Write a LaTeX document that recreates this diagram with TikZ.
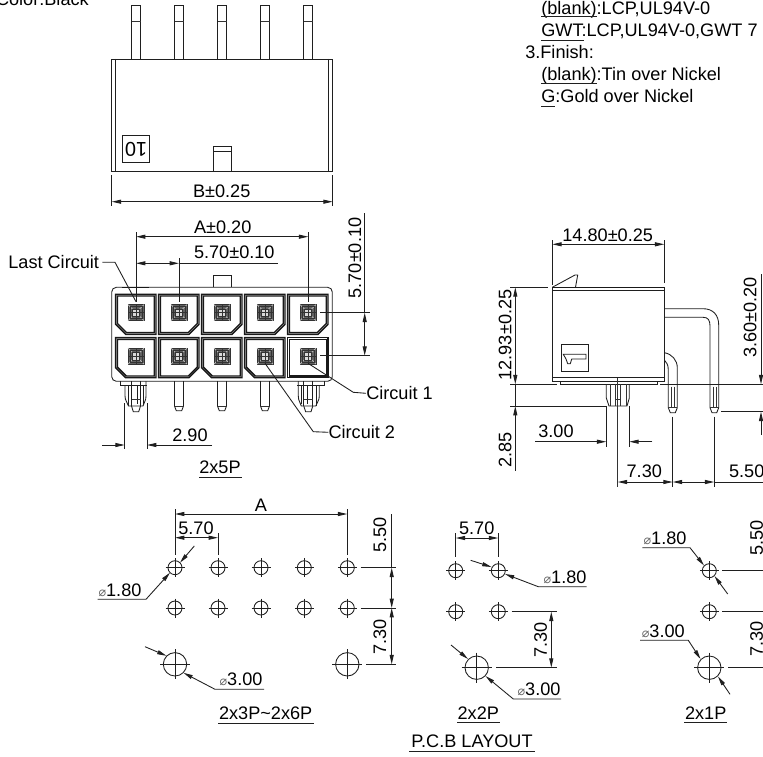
\documentclass[tikz,border=0pt]{standalone}
\usepackage{fontspec}
\setmainfont{Liberation Sans}
\newfontfamily\djfont{DejaVu Sans}
\usetikzlibrary{arrows.meta}
\newcommand{\dia}{{\djfont\fontsize{9.5pt}{10pt}\selectfont\textcolor{black!60}{⌀}}}
\tikzset{
  ln/.style={line width=0.65pt,draw=black!88},
  thin ln/.style={line width=0.5pt,draw=black!80},
  thick ln/.style={line width=1.1pt,draw=black!90},
  arr/.style={ln,-{Stealth[inset=0pt,length=7pt,width=3pt]}},
  arrb/.style={ln,{Stealth[inset=0pt,length=7pt,width=3pt]}-{Stealth[inset=0pt,length=7pt,width=3pt]}},
  txt/.style={inner sep=0pt,font=\fontsize{13.6pt}{16pt}\selectfont},
  vtxt/.style={txt,rotate=90},
}
% cavity polygon: x0 y0 x1 y1 type chamfer
\newcommand{\cavpoly}[6]{%
  \ifcase#5\relax
    \draw[thick ln,line join=miter,fill=white] ({#1},{#2}) -- ({#3},{#2}) -- ({#3},{#4}) -- ({#1},{#4}) -- cycle;
  \or
    \draw[thick ln,line join=miter,fill=white] ({#1},{#2}) -- ({#3},{#2}) -- ({#3},{#4}) -- ({#1+#6},{#4}) -- ({#1},{#4-#6}) -- cycle;
  \or
    \draw[thick ln,line join=miter,fill=white] ({#1},{#2}) -- ({#3},{#2}) -- ({#3},{#4-#6}) -- ({#3-#6},{#4}) -- ({#1},{#4}) -- cycle;
  \fi}
% terminal cavity: centre x, top y, type
\newcommand{\cav}[3]{%
  \cavpoly{#1-20.3}{#2}{#1+20}{#2+40}{#3}{10}
  \cavpoly{#1-18.6}{#2+1.7}{#1+18.3}{#2+38.3}{#3}{9}
  \begin{scope}[shift={(#1,{#2+18.4})}]
    \fill[black!62] (-8,-8) rectangle (8,8);
    \draw[thin ln] (-8,-8) rectangle (8,8);
    \draw[line width=0.5pt,draw=black!25] (-8,-8) -- (8,8) (-8,8) -- (8,-8);
    \fill[black!15] (-3.8,-3.8) rectangle (3.8,3.8);
    \draw[thin ln] (-3.8,-3.8) rectangle (3.8,3.8);
    \draw[thin ln] (-8,0) -- (8,0) (0,-8) -- (0,8) (-6,-6) rectangle (6,6);
  \end{scope}}
% front pin
\newcommand{\fpin}[1]{%
  \draw[ln] ({#1-4.5},381) -- ({#1-4.5},406) -- ({#1-2.7},410.7) -- ({#1+2.7},410.7) -- ({#1+4.5},406) -- ({#1+4.5},381);
  \draw[thin ln] ({#1-4.5},406) -- ({#1+4.5},406);}
% front mounting peg
\newcommand{\fpeg}[2]{%
  \begin{scope}[shift={(#1,0)},xscale=#2]
    \draw[ln] (-16,381) -- (-16,385) -- (11,385);
    \draw[ln] (-11,385) -- (-11,396) .. controls (-11,401) and (-8.5,402) .. (-7.5,406) -- (7,406) .. controls (8,402) and (10,401) .. (10,396) -- (10,381);
    \draw[ln] (-8,385) -- (-8,406) (-4.5,381) -- (-4.5,406) (1,385) -- (1,404) (4.5,381) -- (4.5,406) (7,385) -- (7,404);
    \draw[ln] (-4.5,406) -- (-2.7,411.7) -- (2.7,411.7) -- (4.5,406);
    \draw[thin ln] (-4.5,399) -- (4.5,399);
  \end{scope}}
\newcommand{\hole}[4]{%
  \draw[ln] (#1,#2) circle[radius=#3];
  \draw[ln] ({#1-#4},#2) -- ({#1+#4},#2) (#1,{#2-#4}) -- (#1,{#2+#4});}
\begin{document}
\begin{tikzpicture}[x=0.75pt,y=-0.75pt]
\useasboundingbox (0,0) rectangle (763,756);
\fill[white] (0,0) rectangle (763,756);
\clip (0,0) rectangle (763,756);

% ---------- top-of-sheet notes
\node[txt,anchor=base east] (color) at (89,5.5) {Color:Black};
\node[txt,anchor=base west] (n1) at (541,15) {(blank):LCP,UL94V-0};
\node[txt,anchor=base west] (n2) at (541,36.5) {GWT:LCP,UL94V-0,GWT 7};
\node[txt,anchor=base west] (n3) at (525,59) {3.Finish:};
\node[txt,anchor=base west] (n4) at (541,81) {(blank):Tin over Nickel};
\node[txt,anchor=base west] (n5) at (541,103) {G:Gold over Nickel};
\draw[ln] (541,16.7) -- (597,16.7) (541,40) -- (584,40) (541,83) -- (597,83) (541,106.3) -- (555,106.3);

% ---------- top view
\foreach \c in {136,179,222,265,308}{
  \draw[ln] ({\c-4.5},59) -- ({\c-4.5},5) -- ({\c+4.5},5) -- ({\c+4.5},59);
  \draw[thin ln] ({\c-4.5},21) -- ({\c+4.5},21);
}
\draw[ln] (111.7,59) rectangle (332.7,171.3);
\draw[ln] (115.7,59) -- (115.7,171.3) (328.7,59) -- (328.7,171.3);
\draw[ln] (122.3,135.3) rectangle (149.7,162.3);
\node[txt,rotate=180,font=\fontsize{15pt}{16pt}\selectfont] (ten) at (136,149) {10};
\draw[ln] (213.3,171.3) -- (213.3,146.3) -- (231.3,146.3) -- (231.3,171.3);
\draw[ln] (213.3,151.7) -- (231.3,151.7);
\draw[ln] (111.7,175) -- (111.7,206) (332.7,175) -- (332.7,206);
\draw[arrb] (111.7,201.7) -- (332.7,201.7);
\node[txt] (b) at (221.7,191.7) {B±0.25};

% ---------- front view
\draw[ln] (213.3,287.3) -- (213.3,275) -- (231.3,275) -- (231.3,287.3);
\draw[ln,rounded corners=3.5pt] (111.7,287.3) rectangle (332.3,381.3);
\foreach \c/\t in {136/1,179/2,222/2,265/2,308/2}{ \cav{\c}{294.3}{\t} }
\foreach \c/\t in {136/1,179/2,222/1,265/1,308/0}{ \cav{\c}{337.7}{\t} }
\draw[thick ln] (121.7,287.3) -- (149.3,287.3);
\foreach \c in {179,222,265}{ \fpin{\c} }
\fpeg{136}{1}
\fpeg{308.3}{-1}
% front dims
\draw[ln] (136,232.3) -- (136,301.7) (308.3,232.3) -- (308.3,301.7);
\draw[arrb] (136,236.7) -- (308.3,236.7);
\node[txt] (a20) at (222.7,227.3) {A±0.20};
\draw[ln] (179,258.3) -- (179,301.7);
\draw[arrb] (136,263.3) -- (179,263.3);
\draw[ln] (179,263.3) -- (278,263.3);
\node[txt] (p10) at (234.3,252.7) {5.70±0.10};
\draw[ln] (320,312.7) -- (370,312.7) (320,355.7) -- (370,355.7);
\draw[ln] (364.7,213.3) -- (364.7,312.7);
\draw[arrb] (364.7,312.7) -- (364.7,355.7);
\node[vtxt] (v10) at (355,258) {5.70±0.10};
\node[txt,anchor=east] (last) at (99.3,262.3) {Last Circuit};
\draw[ln] (last.east) ++(3,0) -- (115,262.3) -- (136,301.7);
\node[txt,anchor=west] (c1) at (366,393.3) {Circuit 1};
\draw[ln] (308,363.3) -- (353.3,392.3) -- (c1.west);
\node[txt,anchor=west] (c2) at (328.3,432.3) {Circuit 2};
\draw[ln] (265,363.3) -- (313.3,431.7) -- (c2.west);
\draw[ln] (124.7,403) -- (124.7,449.3) (147,403) -- (147,449.3);
\draw[arr] (102.3,445) -- (124.7,445);
\draw[arr] (212,445) -- (147,445);
\node[txt] (p29) at (190,435) {2.90};
\node[txt] (t25) at (220,467.7) {2x5P};
\draw[ln] (199,477.3) -- (241.7,477.3);

% ---------- side view
\draw[ln] (664.3,308.7) -- (703,308.7) .. controls (713,308.7) and (718.7,315) .. (718.7,325) -- (718.7,407.7) -- (716.7,412.7) -- (712,412.7) -- (710,407.7) -- (710,326) .. controls (710,320) and (708,317.3) .. (703,317.3) -- (664.3,317.3);
\draw[thin ln] (713.3,386.7) -- (713.3,407.7) (716,386.7) -- (716,407.7) (710,407.7) -- (718.7,407.7);
\draw[ln] (664.3,352.7) .. controls (672,354) and (677.3,360) .. (677.3,368) -- (677.3,407.7) -- (675.3,412.7) -- (670.3,412.7) -- (668.3,407.7) -- (668.3,370) .. controls (668.3,365) and (666.5,362) .. (664.3,360);
\draw[thin ln] (671.7,386.7) -- (671.7,407.7) (674.3,386.7) -- (674.3,407.7) (668.3,407.7) -- (677.3,407.7);
\draw[ln,fill=white] (552.3,287.3) rectangle (664.3,381);
\draw[thick ln] (552.3,287.3) -- (664.3,287.3);
\draw[ln] (552.3,290.7) -- (664.3,290.7) (552.3,377.3) -- (664.3,377.3);
\draw[ln] (552.3,287.3) -- (575,275) -- (577.7,275) -- (575.5,287.3);
\draw[thick ln] (575,287.3) -- (588.3,287.3);
\draw[ln] (561,344) rectangle (588.3,371);
\draw[ln] (563.3,354.3) -- (586,354.3) -- (586,359) -- (571.7,359) -- (570.3,363.7) -- (567.7,363.7) -- (566,359) -- cycle;
\draw[ln] (560,381) -- (560,384.3) -- (657.3,384.3) -- (657.3,381);
\draw[ln] (606.3,384.3) -- (606.3,398) -- (609,406) -- (627,406) -- (629.3,398) -- (629.3,384.3);
\draw[thin ln] (610,384.3) -- (610,406) (615.3,384.3) -- (615.3,406) (620,384.3) -- (620,406) (626,384.3) -- (626,406) (615.3,399) -- (620,399);
\draw[thin ln] (617.7,378) -- (617.7,486.7);
% side dims
\draw[ln] (552.3,240) -- (552.3,285) (664.3,240) -- (664.3,283.3);
\draw[arrb] (552.3,244.3) -- (664.3,244.3);
\node[txt] (w) at (607.7,235) {14.80±0.25};
\draw[ln] (510,287.3) -- (548,287.3) (510,384.3) -- (556.7,384.3) (660,384.3) -- (763,384.3);
\draw[arrb] (515.3,287.3) -- (515.3,384.3);
\node[vtxt] (h) at (505,335) {12.93±0.25};
\draw[ln] (510,406) -- (606.3,406);
\draw[ln] (515.3,384.3) -- (515.3,406);
\draw[arr] (515.3,470.7) -- (515.3,406);
\node[vtxt] (d285) at (505,450) {2.85};
\draw[ln] (721,411.7) -- (763,411.7);
\draw[arr] (761,274) -- (761,384.3);
\draw[arr] (761,435) -- (761,411.7);
\node[vtxt] (d36) at (750,317.7) {3.60±0.20};
\draw[ln] (606.3,406) -- (606.3,446.7) (629.3,406) -- (629.3,446.7);
\draw[arr] (535,441.7) -- (606.3,441.7);
\draw[arr] (652.3,441.7) -- (629.3,441.7);
\node[txt] (d3) at (556,431.7) {3.00};
\draw[ln] (672.7,416.7) -- (672.7,486.7) (714.3,416.7) -- (714.3,486.7);
\draw[arrb] (617.7,482) -- (672.7,482);
\draw[arrb] (672.7,482) -- (714.3,482);
\draw[ln] (714.3,482) -- (763,482);
\node[txt] (d73) at (644.3,471.7) {7.30};
\node[txt] (d55) at (746.7,471.7) {5.50};

% ---------- PCB layout 1
\foreach \c in {175,218,261,304.3,347.3}{
  \hole{\c}{567.7}{7}{9.5}
  \hole{\c}{608}{7}{9.5}
}
\hole{175}{664.3}{11.7}{15}
\hole{347.3}{664.3}{11.7}{15}
\draw[ln] (175,509.3) -- (175,555) (347.3,509.3) -- (347.3,555) (218,533.3) -- (218,555);
\draw[arrb] (175,514) -- (347.3,514);
\node[txt] (la) at (261,505) {A};
\draw[arrb] (175,537.7) -- (218,537.7);
\node[txt] (l57) at (196,528.3) {5.70};
\draw[ln] (360.7,567.7) -- (396,567.7) (360.7,608) -- (396,608) (366,664.3) -- (396,664.3);
\draw[ln] (391.7,514) -- (391.7,567.7);
\draw[arrb] (391.7,567.7) -- (391.7,608);
\draw[arrb] (391.7,608) -- (391.7,664.3);
\node[vtxt] (l55) at (380,535) {5.50};
\node[vtxt] (l73) at (380,636.7) {7.30};
\draw[arr] (194.3,546) -- (180,562.7);
\draw[arr] (97.7,599.3) -- (146,599.3) -- (170,572.7);
\node[txt] (l18) at (120,590) {\dia 1.80};
\draw[arr] (145,646.7) -- (166.5,655.8);
\draw[arr] (264,689.3) -- (215,689.3) -- (183.5,672.8);
\node[txt] (l30) at (241,679.3) {\dia 3.00};
\node[txt] (t36) at (265.7,713.3) {2x3P\textasciitilde 2x6P};
\draw[ln] (218.3,723.3) -- (314,723.3);

% ---------- PCB layout 2
\foreach \c in {455.7,498.3}{
  \hole{\c}{570.7}{7}{9.5}
  \hole{\c}{611.7}{7}{9.5}
}
\hole{476.7}{667.7}{11.7}{15}
\draw[ln] (455.7,533.3) -- (455.7,557.3) (498.3,533.3) -- (498.3,557.3);
\draw[arrb] (455.7,538) -- (498.3,538);
\node[txt] (m57) at (476.7,528.3) {5.70};
\draw[arr] (470.7,560.3) -- (491.5,567);
\draw[arr] (586.7,586.7) -- (538.3,586.7) -- (505,574);
\node[txt] (m18) at (565,577.3) {\dia 1.80};
\draw[ln] (511.7,611.7) -- (556.7,611.7) (496,667.7) -- (556.7,667.7);
\draw[arrb] (551.3,611.7) -- (551.3,667.7);
\node[vtxt] (m73) at (540.7,640) {7.30};
\draw[arr] (451,645) -- (468,659);
\draw[arr] (561,699) -- (513.3,699) -- (485.5,676);
\node[txt] (m30) at (539,689) {\dia 3.00};
\node[txt] (t22) at (478.3,712.7) {2x2P};
\draw[ln] (457.3,722) -- (500,722);
\node[txt] (pcb) at (472,741.7) {P.C.B LAYOUT};
\draw[ln] (409,751.3) -- (535,751.3);

% ---------- PCB layout 3
\hole{709.3}{570.7}{7}{9.5}
\hole{709.3}{611.7}{7}{9.5}
\hole{709.3}{667.7}{11.7}{15}
\node[txt] (r18) at (665,538.3) {\dia 1.80};
\draw[arr] (642.3,547.7) -- (690,547.7) -- (704,565.5);
\draw[arr] (727.7,594) -- (714.5,576);
\node[txt] (r30) at (663.3,631) {\dia 3.00};
\draw[arr] (640,640.3) -- (688.3,640.3) -- (700.5,659);
\draw[arr] (730,694.3) -- (718,676.5);
\draw[ln] (722.3,570.7) -- (763,570.7) (722.3,611.7) -- (763,611.7) (728.3,667.7) -- (763,667.7);
\node[vtxt] (r55) at (756.7,538) {5.50};
\node[vtxt] (r73) at (756.7,639.3) {7.30};
\node[txt] (t21) at (705.7,712.7) {2x1P};
\draw[ln] (684.3,722) -- (726.7,722);
\end{tikzpicture}
\end{document}
